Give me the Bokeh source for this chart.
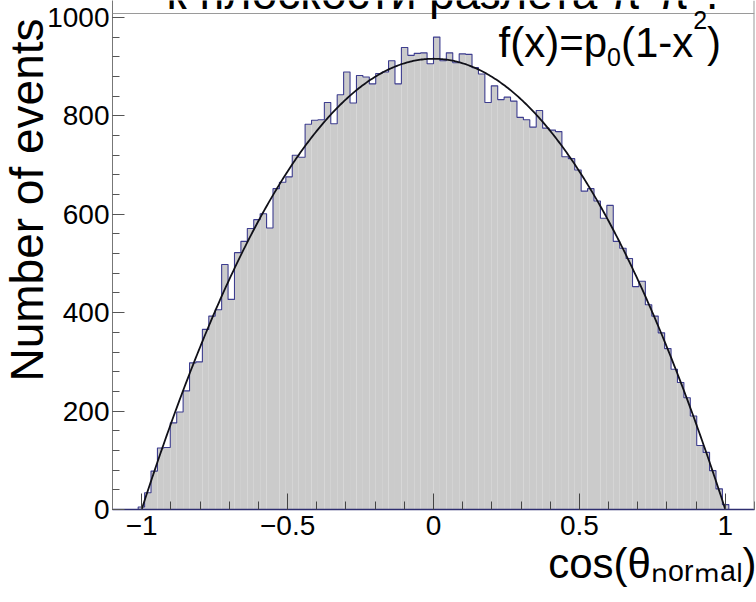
import numpy as np
from bokeh.plotting import figure
from bokeh.models import Label, FixedTicker, Range1d, CustomJSTickFormatter, Title, Span
from bokeh.embed import file_html
from bokeh.resources import INLINE

# ---- data ----
x_min, x_max = -1.1, 1.1
n_bins = 100
counts = [0, 0, 0, 0, 5, 34, 78, 125, 126, 176,
          198, 241, 298, 300, 366, 393, 406, 498, 427, 522,
          545, 571, 589, 601, 572, 652, 665, 676, 720, 716,
          783, 791, 792, 827, 784, 843, 889, 826, 882, 879,
          865, 886, 889, 912, 865, 939, 923, 927, 928, 906,
          960, 912, 928, 908, 926, 925, 898, 885, 827, 861,
          833, 838, 830, 797, 792, 777, 811, 775, 771, 768,
          717, 713, 690, 647, 652, 627, 592, 618, 545, 531,
          510, 453, 464, 416, 393, 359, 327, 285, 258, 227,
          190, 130, 116, 79, 42, 10, 0, 0, 0, 0]
p0 = 916.0
fit_lo, fit_hi = -1.0, 1.0
y_max = 1008
x_ticks = [-1.0, -0.5, 0.0, 0.5, 1.0]
x_tick_labels = ["\u22121", "\u22120.5", "0", "0.5", "1"]
y_ticks = [0, 200, 400, 600, 800, 1000]
title_text = "к плоскости разлета π⁺π⁻."
y_title = "Number of events"
x_title = "cos(\u03b8\u2099\u2092\u1d63\u2098\u2090\u2097)"

FONT = "Liberation Sans"
W, H = 756, 602
L, R, B = 112, 2, 93
FRAME_TOP_PX = 13          # ROOT frame top in the picture
FRAME_H = H - B            # frame reaches the canvas top
y_end = y_max * FRAME_H / (FRAME_H - FRAME_TOP_PX)
BASE_FIX = 18              # label baseline correction (px)

frame_w = W - L - R


def X(px):
    return x_min + (px - L) * (x_max - x_min) / frame_w


def Y(py):
    return (FRAME_H - py) * y_end / FRAME_H


edges = np.linspace(x_min, x_max, n_bins + 1)

p = figure(width=W, height=H, x_range=Range1d(x_min, x_max), y_range=Range1d(0, y_end),
           output_backend="svg", toolbar_location=None,
           min_border_left=L, min_border_right=R, min_border_top=0, min_border_bottom=B)
p.background_fill_color = "white"
p.border_fill_color = "white"
p.outline_line_color = None
p.xgrid.visible = False
p.ygrid.visible = False

# histogram fill
p.quad(left=edges[:-1], right=edges[1:], bottom=0, top=counts,
       fill_color="#cbcbcb", line_color=None)
# histogram outline (steps)
sx = np.repeat(edges, 2)[1:-1]
sy = np.repeat(np.array(counts, dtype=float), 2)
p.line(sx, sy, line_color="#3d3d8f", line_width=1.1)

# fit curve
xf = np.linspace(fit_lo, fit_hi, 401)
p.line(xf, p0 * (1 - xf ** 2), line_color="#101018", line_width=1.8)

# ROOT frame: top and right edges
p.add_layout(Span(location=y_max, dimension="width", line_color="#9a9a9a", line_width=1))
p.add_layout(Span(location=x_max, dimension="height", line_color="#9a9a9a", line_width=2))

# axes
xa = p.xaxis[0]
xa.ticker = FixedTicker(ticks=x_ticks, minor_ticks=list(np.round(np.arange(-1.1, 1.11, 0.1), 2)))
xa.formatter = CustomJSTickFormatter(args=dict(vals=x_ticks, labs=x_tick_labels), code="""
for (let i = 0; i < vals.length; i++) { if (Math.abs(vals[i] - tick) < 1e-9) return labs[i]; }
return "";
""")
xa.major_tick_in = 16
xa.major_tick_out = 0
xa.minor_tick_in = 8
xa.minor_tick_out = 0
xa.major_tick_line_color = "#444444"
xa.minor_tick_line_color = "#444444"
xa.axis_line_color = "#2e2e70"
xa.axis_line_width = 1.5
xa.major_label_text_font = FONT
xa.major_label_text_font_size = "28px"
xa.major_label_text_color = "black"
xa.major_label_standoff = 6

ya = p.yaxis[0]
ya.ticker = FixedTicker(ticks=y_ticks, minor_ticks=list(range(0, 1001, 40)))
ya.major_tick_in = 12
ya.major_tick_out = 0
ya.minor_tick_in = 7
ya.minor_tick_out = 0
ya.major_tick_line_color = "#555555"
ya.minor_tick_line_color = "#555555"
ya.axis_line_color = "#777777"
ya.major_label_text_font = FONT
ya.major_label_text_font_size = "28px"
ya.major_label_text_color = "black"
ya.major_label_standoff = 3

# axis titles (as layout titles so that they are never clipped)
p.add_layout(Title(text=y_title, align="right", offset=18, standoff=-17,
                   text_font=FONT, text_font_size="46px", text_font_style="normal",
                   text_line_height=0.95, text_color="black"), "left")
p.add_layout(Title(text=x_title, align="right", offset=-2, standoff=0,
                   text_font=FONT, text_font_size="42px", text_font_style="normal",
                   text_line_height=1.0, text_color="black"), "below")


def lab(text, px, py, size, align="left"):
    p.add_layout(Label(x=X(px), y=Y(py - BASE_FIX), text=text,
                       text_font=FONT, text_font_size=f"{size}px", text_color="black",
                       text_align=align, text_baseline="alphabetic"))


# title (cut off at top of the picture)
lab(title_text, 442, 10, 46, align="center")
# fit formula f(x)=p0(1-x^2)
lab("f(x)=p", 498, 60, 42)
lab("0", 606.5, 74, 25)
lab("(1-x", 620.4, 60, 42)
lab("2", 692.7, 37, 25)
lab(")", 706.6, 60, 42)

open("out.html", "w").write(file_html(p, INLINE))
